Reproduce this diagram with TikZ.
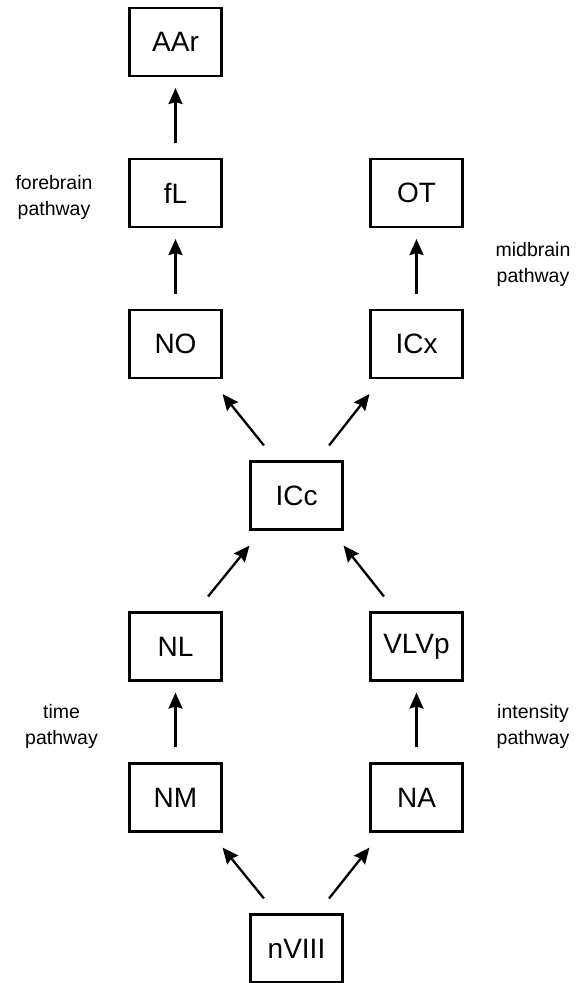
\documentclass[tikz,border=0pt]{standalone}
\usepackage{fontspec}
\setmainfont{Liberation Sans}
\usetikzlibrary{arrows.meta}
\begin{document}
\begin{tikzpicture}[x=1pt,y=-1pt,
  box/.style={draw, line width=2.1pt, minimum width=92pt, minimum height=68pt, inner sep=0pt,
    font=\fontsize{28}{34}\selectfont},
  lbl/.style={align=center, inner sep=0pt, font=\fontsize{19.5}{26}\selectfont},
  arr/.style={line width=2.3pt, -{Stealth[length=16pt,width=14pt,inset=2pt]}},
  varr/.style={arr, shorten <=15pt, shorten >=11pt}]
\useasboundingbox (0,0) rectangle (582,983);
% nodes
\node[box] (AAr) at (175.5,42) {AAr};
\node[box] (fL) at (175.5,193) {fL};
\node[box] (OT) at (416.5,193) {OT};
\node[box] (NO) at (175.5,344) {NO};
\node[box] (ICx) at (416.5,344) {ICx};
\node[box] (ICc) at (296.5,495.5) {ICc};
\node[box] (NL) at (175.5,646.5) {NL};
\node[box] (VLVp) at (416.5,646.5) {VLVp};
\node[box] (NM) at (175.5,797.5) {NM};
\node[box] (NA) at (416.5,797.5) {NA};
\node[box] (nVIII) at (296.5,948.5) {nVIII};
% labels
\node[lbl] (fore) at (54,197) {forebrain\\pathway};
\node[lbl] (mid) at (533,264.5) {midbrain\\pathway};
\node[lbl] (time) at (61.5,726) {time\\pathway};
\node[lbl] (inten) at (533,726) {intensity\\pathway};
% vertical arrows
\draw[varr] (fL) -- (AAr);
\draw[varr] (NO) -- (fL);
\draw[varr] (ICx) -- (OT);
\draw[varr] (NM) -- (NL);
\draw[varr] (NA) -- (VLVp);
% diagonal arrows
\draw[arr] ([xshift=14.5pt,yshift=15pt]ICc.north west) -- ([yshift=-15pt]NO.south east);
\draw[arr] ([xshift=-14.5pt,yshift=15pt]ICc.north east) -- ([yshift=-15pt]ICx.south west);
\draw[arr] ([xshift=-14.5pt,yshift=15pt]NL.north east) -- ([yshift=-15pt]ICc.south west);
\draw[arr] ([xshift=14.5pt,yshift=15pt]VLVp.north west) -- ([yshift=-15pt]ICc.south east);
\draw[arr] ([xshift=14.5pt,yshift=15pt]nVIII.north west) -- ([yshift=-15pt]NM.south east);
\draw[arr] ([xshift=-14.5pt,yshift=15pt]nVIII.north east) -- ([yshift=-15pt]NA.south west);
\end{tikzpicture}
\end{document}
